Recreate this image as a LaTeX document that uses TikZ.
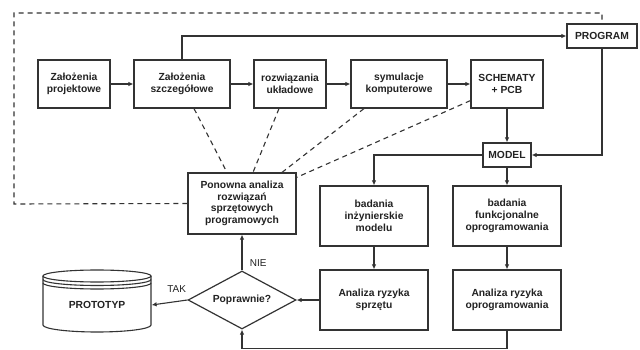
\documentclass[tikz,border=0pt]{standalone}
\usepackage{fontspec}
\setmainfont{Liberation Sans}
\usetikzlibrary{shapes.geometric,arrows.meta}
\definecolor{ln}{HTML}{333333}
\definecolor{tx}{HTML}{222222}
\begin{document}
\begin{tikzpicture}[x=1pt,y=-1pt,
  box/.style={draw=ln,line width=1.2pt,rectangle,align=center,inner sep=1pt,text=tx,
    font=\fontsize{10.3}{11.7}\selectfont\bfseries},
  arr/.style={draw=ln,line width=1.1pt,-{Latex[length=5pt,width=4.5pt]}},
  ln1/.style={draw=ln,line width=1.1pt},
  dsh/.style={draw=ln,line width=1.1pt,dash pattern=on 5pt off 4pt},
  lbl/.style={text=tx,font=\fontsize{10}{12}\selectfont}]
\useasboundingbox (0,0) rectangle (640,350);
\node[box,minimum width=72pt,minimum height=48pt] (zp) at (74,84) {Założenia\\projektowe};
\node[box,minimum width=96pt,minimum height=48pt] (zs) at (182,84) {Założenia\\szczegółowe};
\node[box,minimum width=72pt,minimum height=48pt] (ru) at (290,84) {rozwiązania\\układowe};
\node[box,minimum width=96pt,minimum height=48pt] (sk) at (399,84) {symulacje\\komputerowe};
\node[box,minimum width=72pt,minimum height=48pt] (sch) at (507,84) {SCHEMATY\\+ PCB};
\node[box,minimum width=70pt,minimum height=24pt] (prog) at (602,36) {PROGRAM};
\node[box,minimum width=48pt,minimum height=24pt] (model) at (507,155) {MODEL};
\node[box,minimum width=108pt,minimum height=60pt] (bi) at (374,216) {badania\\inżynierskie\\modelu};
\node[box,minimum width=108pt,minimum height=60pt] (bf) at (507,216) {badania\\funkcjonalne\\oprogramowania};
\node[box,minimum width=108pt,minimum height=60pt] (as) at (374,300) {Analiza ryzyka\\sprzętu};
\node[box,minimum width=108pt,minimum height=60pt] (ao) at (507,300) {Analiza ryzyka\\oprogramowania};
\node[box,minimum width=108pt,minimum height=61pt] (pon) at (242,203.5) {Ponowna analiza\\rozwiązań\\sprzętowych\\programowych};
\node[box,diamond,aspect=1.86,inner sep=0pt,minimum width=108pt,minimum height=58pt] (dia) at (242,300) {Poprawnie?};
% cylinder
\draw[ln1,fill=white] (43,276) -- (43,325) arc[start angle=180,end angle=360,x radius=54,y radius=-7] -- (151,276);
\draw[ln1] (97,276) ellipse[x radius=54,y radius=6];
\draw[ln1] (43,279.5) arc[start angle=180,end angle=360,x radius=54,y radius=-6];
\draw[ln1] (43,283) arc[start angle=180,end angle=360,x radius=54,y radius=-6];
\node[box,draw=none,minimum width=108pt,minimum height=62pt] (proto) at (97,305) {PROTOTYP};
% connectors
\draw[arr] (zp) -- (zs);
\draw[arr] (zs) -- (ru);
\draw[arr] (ru) -- (sk);
\draw[arr] (sk) -- (sch);
\draw[arr] (zs.north) |- (prog.west);
\draw[arr] (sch) -- (model);
\draw[arr] (prog.south) |- (model.east);
\draw[arr] (model.west) -| (bi.north);
\draw[arr] (model) -- (bf);
\draw[arr] (bi) -- (as);
\draw[arr] (bf) -- (ao);
\draw[arr] (as) -- (dia);
\draw[arr] (ao.south) -- ++(0,18) -| (dia.south);
\draw[arr] (dia) -- (pon) node[lbl,pos=0.2,right=4pt] {NIE};
\draw[arr] (dia.west) -- (proto.east) node[lbl,pos=0.3,above=5pt] {TAK};
% dashed
\draw[dsh] (pon.west) -- (14,204) -- (14,13) -| (prog.north);
\draw[dsh] ([xshift=12pt]zs.south) -- ([xshift=-15pt]pon.north);
\draw[dsh] ([xshift=-11pt]ru.south) -- ([xshift=11pt]pon.north);
\draw[dsh] ([xshift=-35pt]sk.south) -- ([xshift=40pt]pon.north);
\draw[dsh] ([yshift=8pt]sch.south west) -- ([yshift=-5pt]pon.north east);
\end{tikzpicture}
\end{document}
